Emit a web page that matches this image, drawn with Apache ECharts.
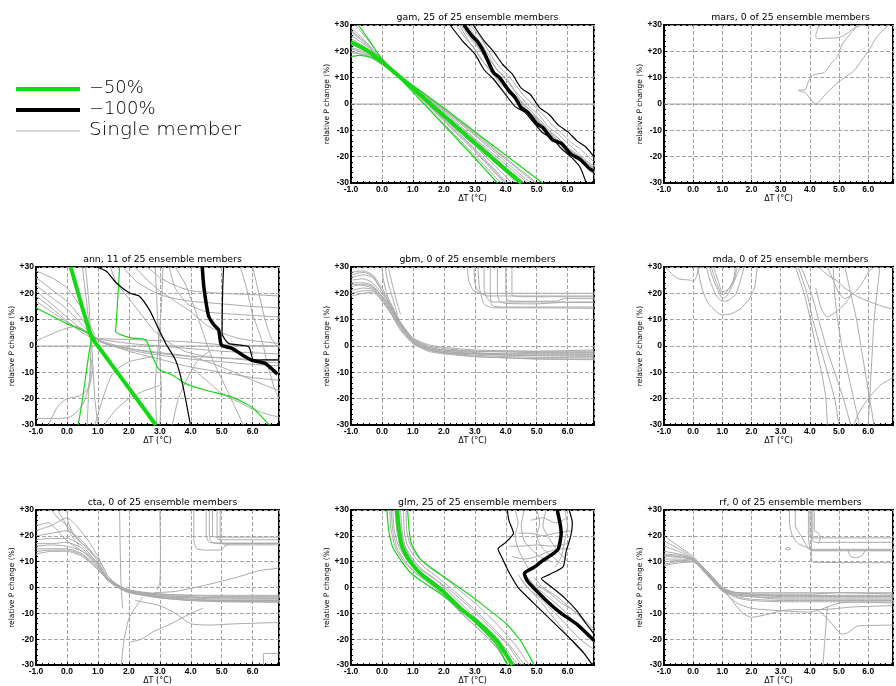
<!DOCTYPE html>
<html><head><meta charset="utf-8">
<script src="https://cdn.jsdelivr.net/npm/echarts@6/dist/echarts.min.js"></script>
<style>html,body{margin:0;padding:0;background:#fff}#c{width:896px;height:686px}</style>
</head><body><div id="c"></div>
<script>
// ---------- axes / ticks ----------
const xMin = -1, xMax = 6.85, yMin = -30, yMax = 30;
const xTickValues = [-1, 0, 1, 2, 3, 4, 5, 6];
const xTickLabels = ['-1.0', '0.0', '1.0', '2.0', '3.0', '4.0', '5.0', '6.0'];
const yTickValues = [-30, -20, -10, 0, 10, 20, 30];
const yTickLabels = ['-30', '-20', '-10', '0', '+10', '+20', '+30'];
const xName = 'ΔT (°C)';
const yName = 'relative P change (%)';

// ---------- panels ----------
const panelKeys = ['gam', 'mars', 'ann', 'gbm', 'mda', 'cta', 'glm', 'rf'];
const panelTitles = ['gam, 25 of 25 ensemble members', 'mars, 0 of 25 ensemble members', 'ann, 11 of 25 ensemble members',
  'gbm, 0 of 25 ensemble members', 'mda, 0 of 25 ensemble members', 'cta, 0 of 25 ensemble members',
  'glm, 25 of 25 ensemble members', 'rf, 0 of 25 ensemble members'];
const panelCol = [1, 2, 0, 1, 2, 0, 1, 2];
const panelRow = [0, 0, 1, 1, 1, 2, 2, 2];
const panelSolidZero = [true, true, true, false, false, false, false, false];

const legendNames = ['\u221250%', '\u2212100%', 'Single member'];

// ---------- gam ----------
const gamGray = [
  [[-0.85,30],[-0.5,25],[0,17.5],[1,5],[2,-7.5],[3,-19.5],[3.85,-30]],
  [[-1,29],[-0.5,23.5],[0,17],[1,5.5],[2,-6.5],[3,-18],[3.95,-30]],
  [[-1,27.5],[-0.5,22.5],[0,16.5],[1,6],[2,-5.5],[3,-17],[4.05,-30]],
  [[-1,26],[-0.5,22],[0,16.5],[1,6],[2,-5],[3,-16],[4,-27.5],[4.2,-30]],
  [[-1,25],[-0.5,21],[0,16],[1,6.2],[2,-4.5],[3,-15],[4,-26],[4.35,-30]],
  [[-1,24],[-0.5,20.5],[0,16],[1,6.5],[2,-4],[3,-14.5],[4,-25],[4.5,-30]],
  [[-1,22.5],[-0.5,20],[0,15.5],[1,6.5],[2,-3.5],[3,-13.5],[4,-24],[4.6,-30]],
  [[-1,21.5],[-0.5,19.5],[0,15.5],[1,7],[2,-3],[3,-13],[4,-23],[4.7,-30]],
  [[-1,21],[-0.5,19],[0,15.5],[1,7],[2,-2.5],[3,-12],[4,-22],[4.8,-30]],
  [[-1,20],[-0.5,18.5],[0,15],[1,7],[2,-2],[3,-11.5],[4,-21],[4.95,-30]],
  [[-1,19.5],[-0.5,18.5],[0,15],[1,7],[2,-2],[3,-11],[4,-20.5],[5.0,-30]],
  [[-1,28],[-0.5,23],[0,16.5],[1,5.5],[2,-6],[3,-17.5],[4.0,-30]],
  [[-1,23],[-0.5,20],[0,16],[1,6.5],[2,-4],[3,-14],[4,-24.5],[4.55,-30]],
  [[2.4,30],[2.7,25],[3.0,21],[3.2,17],[3.5,13],[3.8,8],[4.0,6],[4.3,1.5],[4.6,-2],[4.9,-5],[5.2,-9],[5.5,-12],[5.8,-15.5],[6.1,-18],[6.5,-22],[6.85,-27]],
  [[2.55,30],[2.85,25],[3.1,21.5],[3.35,17],[3.6,12.5],[3.9,9],[4.2,4],[4.4,1.5],[4.7,-2.5],[5.0,-5.5],[5.3,-10],[5.6,-13],[5.9,-16],[6.3,-20],[6.6,-23],[6.85,-26]],
  [[2.75,30],[3.0,26],[3.2,23],[3.45,18.5],[3.7,13],[4.0,10],[4.3,5],[4.5,2.5],[4.8,-1.5],[5.1,-4.5],[5.4,-9],[5.7,-11.5],[6.0,-15],[6.3,-18],[6.6,-21.5],[6.85,-23.5]],
  [[2.85,30],[3.1,26.5],[3.3,23],[3.55,18],[3.8,14],[4.1,10.5],[4.4,6],[4.6,3],[4.9,-0.5],[5.2,-4],[5.5,-8],[5.8,-11],[6.1,-14.5],[6.4,-17],[6.85,-22]],
  [[2.5,30],[2.8,24],[3.05,20],[3.3,15.5],[3.6,11],[3.9,7.5],[4.2,3],[4.5,-0.5],[4.8,-3.5],[5.1,-7],[5.4,-11],[5.7,-14],[6.0,-17],[6.4,-21],[6.85,-24.5]],
  [[2.7,30],[2.95,25.5],[3.2,22],[3.4,18],[3.7,13.5],[3.95,10],[4.25,5.5],[4.5,1],[4.8,-2.5],[5.1,-6],[5.4,-10],[5.7,-13],[6.0,-16.5],[6.35,-19.5],[6.7,-23],[6.85,-24]],
  [[2.6,30],[2.9,25],[3.15,21],[3.4,16.5],[3.65,12],[3.95,8.5],[4.25,4],[4.55,0],[4.85,-3],[5.15,-7.5],[5.45,-11],[5.75,-13.5],[6.05,-17.5],[6.45,-20.5],[6.85,-25]]
];
const gamGreen = [[-1,23.5],[-0.5,20.5],[0,16],[1,6],[1.57,0],[2,-4.5],[3,-14.8],[4,-25],[4.5,-30]];
const gamGreenBand = [
  [[-0.76,30],[-0.4,24],[0,17],[1,4.5],[2,-8],[3,-20.5],[3.73,-30]],
  [[-1,18],[-0.7,18.5],[-0.3,17.5],[0,15.5],[1,7],[2,-1.5],[3,-10.5],[4,-19.5],[5.19,-30]]
];
const gamBlack = [[2.65,30],[2.9,26],[3.1,23.5],[3.3,19.5],[3.6,12],[3.8,10],[4.1,5],[4.3,2.5],[4.5,-1.5],[4.7,-3],[5.0,-7.5],[5.2,-9],[5.5,-13.5],[5.8,-15],[6.1,-19],[6.4,-21],[6.7,-24.5],[6.85,-25.5]];
const gamBlackBand = [
  [[2.2,30],[2.6,24],[3,19],[3.3,13],[3.6,9.5],[4,3.5],[4.3,-1],[4.6,-3],[4.9,-7],[5.2,-11],[5.5,-13],[5.8,-17],[6.1,-20],[6.4,-24],[6.6,-30]],
  [[2.95,30],[3.3,24],[3.6,20],[3.9,15],[4.2,11.5],[4.5,6],[4.8,3.5],[5.1,-1.5],[5.4,-4],[5.7,-8],[6.0,-10.5],[6.3,-14],[6.6,-16.5],[6.85,-20]]
];

// ---------- mars ----------
const marsGray = [
  [[4.32,30],[4.2,26],[4.25,24.8],[4.6,25],[5.0,25.2],[5.3,27],[5.6,29.5],[5.8,30]],
  [[5.85,30],[5.6,29.2],[5.3,25.5],[5.1,22.5],[4.95,18],[4.75,15.7],[4.5,12],[4.1,11],[3.95,8.5],[3.85,5.5],[3.6,5.2],[3.85,4.2],[4.2,0],[4.6,4.5],[5.0,8.5],[5.5,12.5],[5.8,17],[6.0,20],[6.3,25.5],[6.5,28],[6.7,30]]
];

// ---------- ann ----------
const annGray = [
  [[-1,26],[-0.5,21.5],[0,17],[0.5,10],[0.85,4],[1.2,1],[2,-1.5],[3,-3.5],[4,-5],[5,-6],[6,-7],[6.85,-7.5]],
  [[-1,23],[-0.5,18.5],[0,14],[0.5,8],[0.9,3],[1.5,0.5],[2.5,-2],[3.5,-3.5],[5,-4.5],[6.85,-5.5]],
  [[-1,21],[-0.5,16],[0,11],[0.5,6],[0.9,3],[2,1],[3,0],[4,-1],[5,-2],[6.85,-3]],
  [[-1,19],[-0.5,14.5],[0,9.5],[0.5,5],[1,2],[2,-2],[3,-5],[4,-8],[5,-10],[6,-12],[6.85,-13]],
  [[-1,17],[-0.5,13],[0,9],[0.5,6],[1,3],[2,2.5],[3,2],[4,1.5],[5,0.5],[6.85,0]],
  [[-1,2],[-0.6,4],[-0.2,6],[0.3,7.5],[0.8,4],[1.2,1],[2,-1],[3,-2.5],[4,-4],[5,-8],[6,-13],[6.85,-17]],
  [[0.6,30],[0.7,18],[0.75,8],[0.8,0],[0.85,-10],[0.9,-20],[1.0,-30]],
  [[0.5,30],[0.6,20],[0.7,10],[0.78,2],[0.75,-8],[0.7,-18],[0.65,-30]],
  [[-1,-27.5],[-0.3,-27.5],[0.1,-27],[0.4,-24],[0.6,-20],[0.75,-12],[0.8,-5]],
  [[-0.6,-30],[-0.3,-23],[0,-20],[0.4,-19],[0.7,-16],[0.85,-8]],
  [[2.85,30],[2.9,18],[2.95,5],[3.0,-5],[3.05,-18],[3.0,-30]],
  [[3.1,30],[3.05,15],[2.95,0],[2.85,-15],[2.9,-30]],
  [[2.2,30],[2.6,25],[3,21],[3.5,17],[4,13],[4.5,8],[5,5],[5.5,3],[6,2],[6.85,1]],
  [[1.8,30],[2.3,24],[3,19.5],[3.5,18],[4,17],[5,16],[6,15],[6.85,14.5]],
  [[2.6,30],[3.0,26],[3.5,23],[4,21],[5,20],[6,19.5],[6.85,19]],
  [[3.5,30],[3.8,24],[4.1,15],[4.4,5],[4.7,-5],[5.1,-15],[5.5,-25],[5.7,-30]],
  [[5.6,30],[5.8,22],[6.0,12],[6.3,2],[6.5,-8],[6.7,-16],[6.85,-20]],
  [[4.0,-8],[4.5,-13],[5,-18],[5.5,-21],[6,-24],[6.5,-26],[6.85,-27]],
  [[1.2,-30],[1.6,-24],[2.0,-20],[2.5,-17],[3.0,-15]],
  [[3.4,-30],[3.6,-20],[3.9,-12],[4.2,-6],[4.6,-2]],
  [[-1,28.5],[-0.5,26],[0,22],[0.5,14],[0.9,4]],
  [[1.4,30],[1.6,24],[2.0,18],[2.4,12],[2.8,6],[3.2,2],[3.8,-2],[4.5,-4],[5.5,-5],[6.85,-6.5]],
  [[3.3,30],[3.5,22],[3.9,16],[4.5,13],[5.5,12],[6.85,11]],
  [[6.0,30],[6.2,20],[6.4,10],[6.6,3],[6.85,-1]],
  [[0.9,-30],[1.1,-22],[1.3,-15],[1.5,-10],[2,-6],[2.8,-4]]
];
const annGreen = [[0.12,30],[0.4,18.5],[0.73,5.5],[0.9,1.5],[1.0,0],[1.5,-8],[2,-16],[2.5,-24],[2.87,-30]];
const annGreenBand = [
  [[-1,14.5],[-0.5,11.5],[0,8.5],[0.4,6.5],[0.68,5],[0.78,2],[0.72,-2],[0.6,-12],[0.48,-22],[0.36,-30]],
  [[1.7,30],[1.65,20],[1.6,10],[1.57,5.5],[1.8,4],[2.12,3],[2.55,2.3],[2.76,-4],[2.98,-8.9],[3.4,-11],[3.83,-14.3],[4.48,-16.8],[5.33,-19.4],[5.97,-23.2],[6.5,-29.5],[6.55,-30]]
];
const annBlack = [[4.37,30],[4.42,22.7],[4.5,16],[4.58,11.2],[4.75,8],[4.9,6.1],[4.99,0.4],[5.33,-0.9],[5.76,-4.1],[5.97,-5.4],[6.4,-6.6],[6.6,-8.5],[6.8,-10.7]];
const annBlackBand = [
  [[0.95,30],[1.27,28.4],[1.59,24],[2.02,20.1],[2.34,18.9],[2.66,13.8],[2.87,8.7],[3.19,1],[3.51,-5.4],[3.73,-14.3],[3.99,-30]],
  [[5.06,30],[5.03,21.4],[5.01,4.8],[5.22,1],[5.87,-0.3],[6.03,-5.4],[6.4,-5.3],[6.85,-5.3]]
];

// ---------- gbm ----------
const gbmGray = [
  [[-1,28],[-0.6,28.5],[-0.3,27],[0,22],[0.3,16],[0.6,9],[1,3],[1.5,0],[2,-1],[3,-2],[4,-2.3],[5,-2.5],[6.85,-2.5]],
  [[-1,26],[-0.6,27],[-0.3,26],[0,21],[0.3,15],[0.6,8.5],[1,2.5],[1.5,-0.5],[2,-1.5],[3,-2.5],[4,-3],[5,-3],[6.85,-3.2]],
  [[-1,25],[-0.6,25.5],[-0.3,24],[0,20],[0.3,14.5],[0.6,8],[1,2],[1.5,-1],[2,-2],[3,-3],[4,-3.5],[5,-3.7],[6.85,-4]],
  [[-1,24],[-0.6,24],[-0.3,23],[0,19],[0.3,14],[0.6,8],[1,2.5],[1.5,-0.5],[2,-1.5],[3,-2],[4,-2],[5,-2],[6.85,-1.5]],
  [[-1,22.5],[-0.6,23.5],[-0.3,22.5],[0,18.5],[0.3,13.5],[0.6,7.5],[1,1.5],[1.5,-1.5],[2,-2.5],[3,-3.5],[4,-4],[5,-4.3],[6.85,-4.5]],
  [[-1,21],[-0.6,22],[-0.3,21.5],[0,18],[0.3,13],[0.6,7],[1,1.5],[1.5,-1.5],[2,-2.5],[3,-4],[4,-4.5],[5,-4.8],[6.85,-5]],
  [[-1,20],[-0.6,21],[-0.3,21],[0,17.5],[0.3,12.5],[0.6,6.5],[1,1],[1.5,-2],[2,-3],[3,-4],[4,-4.5],[5,-5],[6.85,-5.2]],
  [[-1,19],[-0.6,20],[-0.3,20.5],[0,17],[0.3,12],[0.6,6],[1,1],[1.5,-1.5],[2,-2.5],[3,-3],[4,-3.3],[5,-3.5],[6.85,-3.5]],
  [[-1,27],[-0.6,28],[-0.3,26.5],[0,21],[0.3,15],[0.6,9],[1,3],[1.5,0.5],[2,-0.5],[3,-1.5],[4,-1.8],[5,-2],[6.85,-2]],
  [[-1,23.5],[-0.6,23],[-0.3,22],[0,19],[0.3,14],[0.6,8],[1,2],[1.5,-1],[2,-2],[3,-2.8],[4,-3],[5,-3],[6.85,-3]],
  [[0.0,30],[0.05,25],[0.15,20],[0.3,15],[0.5,10]],
  [[0.1,30],[0.2,24],[0.35,18],[0.5,12]],
  [[0.2,30],[0.3,25],[0.45,18],[0.6,12]],
  [[2.76,30],[2.8,25],[2.95,21],[3.2,20],[4,20],[5,20],[6.85,20]],
  [[2.97,30],[3.0,24],[3.1,21],[3.4,19],[4.5,19],[5.5,19],[6.85,19]],
  [[3.3,30],[3.3,22],[3.4,18],[3.6,16.7],[5,16.7],[6.85,16.7]],
  [[3.73,30],[3.73,20],[3.8,17],[4.0,16.2],[5,16],[5.8,16.5],[6.85,16.5]],
  [[3.1,30],[3.15,22],[3.3,16],[3.6,14.5],[5,14.5],[6.85,14.3]],
  [[4.0,30],[4.0,20],[4.05,17.5],[4.3,17],[5.6,17],[5.9,18],[6.85,18]],
  [[4.2,30],[4.2,19.5],[4.5,18.7],[6.85,18.7]],
  [[3.5,30],[3.5,20],[3.55,15.5],[3.8,14.8],[6.85,14.8]]
];

// ---------- mda ----------
const mdaGray = [
  [[-0.95,30],[-0.7,27],[-0.5,25.5],[-0.1,25],[0,24.5],[0.1,26],[0.2,30]],
  [[0.15,30],[0.3,22],[0.5,16.5],[0.8,13],[1.0,11.8],[1.3,12.2],[1.6,14],[1.9,17.5],[2.1,22],[2.2,30]],
  [[0.45,30],[0.6,24],[0.8,19],[1.0,17],[1.2,17.3],[1.45,19.5],[1.6,24],[1.75,30]],
  [[0.55,30],[0.7,25],[0.9,20],[1.0,18],[1.15,19],[1.3,22],[1.5,27],[1.6,30]],
  [[0.62,30],[0.8,24],[1.0,19.5],[1.1,20],[1.3,23],[1.4,26],[1.45,30]],
  [[0.7,30],[0.85,25],[1.0,20.5],[1.2,21.5],[1.4,25],[1.5,30]],
  [[3.5,30],[3.8,20],[4.0,11],[4.2,0],[4.4,-10],[4.55,-20],[4.6,-30]],
  [[3.6,30],[3.9,20],[4.1,10],[4.35,0],[4.6,-10],[4.85,-20],[5.0,-30]],
  [[3.7,30],[4.05,20],[4.3,10],[4.55,0],[4.85,-10],[5.15,-20],[5.4,-30]],
  [[4.8,30],[4.85,20],[4.95,10],[5.1,0],[5.3,-10],[5.5,-20],[5.7,-30]],
  [[5.2,30],[5.4,20],[5.6,10],[5.75,0],[5.9,-10],[6.05,-20],[6.2,-30]],
  [[4.6,30],[4.8,25],[5.0,20],[5.2,18],[5.5,20],[5.8,24],[6.0,28],[6.2,30]],
  [[4.3,30],[4.6,27],[4.9,25],[5.2,22],[5.6,19],[6,17],[6.5,15],[6.85,14]],
  [[4.2,22],[4.4,14],[4.6,11],[4.9,13],[5.2,16],[5.4,19]],
  [[6.4,30],[6.3,20],[6.2,10],[6.15,0],[6.1,-10],[6.05,-20],[6.0,-30]],
  [[5.5,-30],[5.7,-25],[6.0,-20],[6.4,-15],[6.85,-12]]
];

// ---------- cta ----------
const ctaGray = [
  [[-1,22],[-0.5,24],[-0.2,26],[0,27],[0.3,24],[0.7,18],[1.0,12],[1.3,5],[1.6,1],[2,-1],[3,-2.5],[4,-3],[5,-3.5],[6.85,-3.5]],
  [[-1,20],[-0.5,21],[0,22],[0.5,18],[1.0,10],[1.3,4],[1.7,0.5],[2,-1],[3,-3],[4,-3.5],[5,-4],[6.85,-4]],
  [[-1,18.5],[-0.5,19],[0,19],[0.5,16],[1.0,9],[1.3,3.5],[1.7,0],[2,-1.5],[3,-3.5],[4,-4],[5,-4.5],[6.85,-4.5]],
  [[-1,17],[-0.5,17],[0,17.5],[0.5,15],[1.0,8.5],[1.3,3],[1.8,0],[2,-1.5],[3,-3.5],[4,-4.5],[5,-5],[6.85,-5]],
  [[-1,16],[-0.5,16.5],[0,16],[0.5,14],[1.0,8],[1.3,3],[1.8,-0.5],[2,-1.5],[3,-4],[4,-5],[5,-5.3],[6.85,-5.5]],
  [[-1,15],[-0.5,15],[0,15],[0.5,13],[1.0,7.5],[1.4,2.5],[1.8,-0.5],[2,-2],[3,-4],[4,-5],[5,-5.5],[6.85,-5.7]],
  [[-1,14],[-0.5,14.5],[0,14.5],[0.5,12.5],[1.0,7],[1.4,2],[1.8,-1],[2,-2],[3,-3.8],[4,-4.6],[5,-5],[6.85,-5.2]],
  [[-1,13],[-0.5,14],[0,14],[0.5,12],[1.0,7],[1.4,2],[1.8,-1],[2.2,-2],[3,-3],[4,-3.8],[5,-4],[6.85,-4.2]],
  [[-1,24],[-0.6,25],[-0.3,22],[0,18],[0.5,14],[1,9.5],[1.3,4],[1.8,0],[2.2,-1.5],[3,-2.5],[4,-3],[6.85,-3]],
  [[-0.5,30],[-0.3,27],[0,24],[0.3,19],[0.7,15],[1.0,11],[1.3,5]],
  [[0,30],[0.05,25],[0.2,21],[0.5,17],[0.9,12]],
  [[-0.3,30],[-0.1,26],[0.1,21],[0.4,16]],
  [[1.7,30],[1.72,15],[1.75,0],[1.8,-8]],
  [[3.0,30],[3.02,15],[3.0,2],[2.9,-1]],
  [[1.75,-30],[1.85,-20],[2.0,-12],[2.2,-8],[2.45,-3.5]],
  [[2.05,-21],[2.4,-20],[2.8,-17],[3.2,-15],[3.6,-12.5],[4.0,-10],[4.4,-8]],
  [[2.2,-5],[3,-7],[3.5,-10],[4.0,-14],[4.6,-14.5],[5.5,-14],[6.85,-13.5]],
  [[2.8,-2],[3.5,-1.5],[4.5,1],[5.5,4],[6.2,6.5],[6.85,7.5]],
  [[6.35,-30],[6.35,-25.5],[6.85,-25.5]],
  [[4.1,30],[4.1,18],[4.2,15],[4.5,14.5],[5.0,14.5],[5.1,16],[5.3,17],[6.85,17]],
  [[4.6,30],[4.6,19],[4.8,17],[6.85,17]],
  [[4.7,30],[4.7,20],[4.9,19.5],[6.85,19.5]],
  [[4.85,30],[4.85,19],[5,18.5],[6.85,18.5]],
  [[4.95,30],[4.95,18],[5.1,16.5],[6.85,16.5]],
  [[4.5,30],[4.5,20],[4.6,17.5],[5.2,17.2],[6.85,17.2]]
];

// ---------- glm ----------
const glmGray = [
  [[0.25,30],[0.3,22],[0.45,15],[0.75,9.5],[1.1,5.5],[1.5,2],[2,-3],[2.6,-10],[3.2,-17],[3.7,-23],[4.1,-30]],
  [[0.35,30],[0.4,22],[0.55,15.5],[0.85,10],[1.2,6],[1.6,2.5],[2.1,-3],[2.7,-10],[3.3,-17],[3.8,-23.5],[4.2,-30]],
  [[0.6,30],[0.65,22],[0.75,16],[1.0,11],[1.3,7],[1.7,3.5],[2.2,-2],[2.8,-9],[3.4,-16],[3.95,-23],[4.4,-30]],
  [[0.7,30],[0.72,22],[0.8,17],[1.05,12],[1.4,7.5],[1.8,4],[2.3,-1],[2.9,-7.5],[3.5,-14.5],[4.1,-22],[4.6,-30]],
  [[0.78,30],[0.8,22],[0.9,17],[1.15,12],[1.5,8],[2,4],[2.5,-1],[3.1,-7],[3.7,-14],[4.3,-22],[4.75,-30]],
  [[0.42,30],[0.48,22],[0.6,15.5],[0.9,10],[1.25,6],[1.7,2],[2.2,-3.5],[2.8,-11],[3.4,-18],[3.9,-24],[4.3,-30]],
  [[0.55,30],[0.6,23],[0.7,17],[0.95,11],[1.3,6.5],[1.8,2.5],[2.3,-2],[2.9,-8.5],[3.5,-15.5],[4.05,-22],[4.5,-30]],
  [[0.3,30],[0.35,22],[0.5,15],[0.8,9.5],[1.15,5],[1.6,1],[2.1,-4.5],[2.7,-11.5],[3.3,-18],[3.75,-24],[4.05,-30]],
  [[4.7,4],[5.0,0],[5.4,-4],[5.8,-8],[6.2,-13],[6.6,-18],[6.85,-21]],
  [[4.5,3],[4.8,-1],[5.2,-5],[5.6,-10],[6.0,-15],[6.4,-20],[6.85,-24]],
  [[4.9,4],[5.2,0],[5.6,-3],[6.0,-7],[6.4,-11],[6.85,-16]],
  [[4.4,5],[4.7,0],[5.1,-5],[5.5,-11],[5.9,-17],[6.3,-23],[6.7,-28],[6.8,-30]],
  [[5.0,1],[5.4,-2],[5.8,-6],[6.2,-9],[6.6,-14],[6.85,-17]],
  [[4.3,30],[4.4,25],[4.3,20],[4.4,15],[4.6,10],[4.8,6]],
  [[4.6,30],[4.5,24],[4.6,18],[4.9,14],[5.2,11],[5.5,10]],
  [[5.0,30],[5.1,25],[5.0,20],[5.2,15],[5.5,12],[5.8,9]],
  [[5.3,30],[5.2,24],[5.4,19],[5.7,14],[6.0,10]],
  [[5.9,30],[6.0,24],[5.9,18],[5.8,12],[5.6,8]],
  [[4.2,12],[4.6,11],[5.0,12],[5.4,14],[5.8,15],[6.1,15]],
  [[4.1,16],[4.5,16],[5,16.5],[5.5,16],[6.0,17]],
  [[4.4,21],[4.8,21],[5.2,20],[5.6,21],[6.1,22]],
  [[4.8,26],[5.2,27],[5.6,25],[6.0,27]]
];
const glmGreen = [[0.48,30],[0.55,22],[0.65,16],[0.92,9.9],[1.2,6],[1.46,3.4],[2.0,-1.7],[2.54,-8.1],[3.19,-14.4],[3.73,-20.8],[4.22,-30]];
const glmGreenBand = [
  [[0.16,30],[0.22,22],[0.35,15.5],[0.65,9.9],[0.9,6],[1.24,2.8],[2.1,-4.2],[2.86,-11.8],[3.51,-19.5],[3.8,-24],[4.05,-30]],
  [[0.83,30],[0.88,22],[0.95,17],[1.24,11],[1.78,6],[2.54,-0.4],[3.19,-6.1],[4.05,-14.4],[4.5,-21],[4.92,-30]]
];
const glmBlack = [[5.66,30],[5.75,25],[5.79,21],[5.7,15],[5.57,13.4],[5.2,10.5],[4.92,7.9],[4.6,5.4],[4.7,2.5],[4.92,-0.4],[5.35,-5.5],[5.79,-10],[6.33,-14.5],[6.85,-20.5]];
const glmBlackBand = [
  [[4.05,30],[4.1,26],[4.25,21],[4.0,17.5],[3.75,15],[3.9,11],[4.1,6],[4.4,0],[4.9,-6],[5.5,-13],[6.1,-20],[6.5,-25],[6.8,-30]],
  [[6.05,30],[6.15,25],[6.1,20],[5.95,14],[5.85,8],[5.4,5],[5.15,3.5],[5.5,0],[5.9,-4],[6.3,-9],[6.6,-14],[6.85,-18]]
];

// ---------- rf ----------
const rfGray = [
  [[-1,20],[-0.5,16],[0,12],[0.5,6],[1,0],[1.5,-2],[2,-2.5],[3,-3],[4,-3],[5,-3],[6.85,-3]],
  [[-1,18],[-0.5,15],[0,11.5],[0.5,6],[1,0],[1.5,-2.5],[2,-3],[3,-3.5],[4,-3.5],[5,-3.5],[6.85,-3.5]],
  [[-1,16],[-0.5,14],[0,11],[0.5,5.5],[1,-0.5],[1.5,-3],[2,-3.5],[3,-4],[4,-4],[5,-4],[6.85,-4]],
  [[-1,14],[-0.5,13],[0,11],[0.5,5.5],[1,-0.5],[1.5,-3.5],[2,-4.5],[3,-5],[4,-5],[5,-5],[6.85,-5]],
  [[-1,12.5],[-0.5,12],[0,10.5],[0.5,5],[1,-1],[1.5,-4],[2,-5],[3,-5.5],[4,-5.5],[5,-5.5],[6.85,-6]],
  [[-1,11],[-0.5,11],[0,10.5],[0.5,5],[1,-1],[1.5,-2],[2,-2.5],[3,-2.5],[4,-2.5],[5,-2],[6.85,-2]],
  [[-1,10],[-0.5,10.5],[0,10],[0.5,5],[1,-0.5],[1.5,-2],[2,-2],[3,-2],[4,-2],[5,-2],[6.85,-2.5]],
  [[-1,9],[-0.5,10],[0,10],[0.5,4.5],[1,-1],[1.5,-3],[2,-3.5],[3,-4.5],[4,-4.5],[5,-4.5],[6.85,-4.5]],
  [[-1,8.5],[-0.5,9.5],[0,10],[0.5,4.5],[1,-1.5],[1.5,-3],[2,-3],[3,-3],[4,-3],[5,-3.3],[6.85,-3.3]],
  [[-1,13],[-0.5,12.5],[0,11],[0.5,6],[1,0],[1.4,-6],[1.7,-10],[2,-11.5],[2.5,-10.5],[3,-9],[3.5,-8.5],[4,-8.5],[4.5,-8.5],[5,-8],[5.5,-7.5],[6.85,-7]],
  [[-1,12],[0,11],[0.5,5.5],[1,-1],[1.5,-6],[2,-8],[3,-9],[4,-9.5],[4.5,-8],[5,-6],[6,-5.5],[6.85,-5.5]],
  [[4.6,-7],[4.55,-15],[4.5,-22],[4.45,-30]],
  [[4.3,-9],[4.6,-12],[4.9,-16],[5.1,-18],[5.3,-17.5],[5.6,-15],[6,-14.7],[6.85,-14.5]],
  [[3.3,30],[3.3,25],[3.4,20],[3.6,17],[3.9,15.5],[4.1,14.5],[5,14.5],[6.85,14.5]],
  [[3.5,30],[3.5,24],[3.7,20],[3.9,16],[4.0,14.8],[6.85,14.8]],
  [[3.95,30],[3.95,20],[4.0,15],[4.05,14.2],[6.85,14.2]],
  [[4.0,30],[4.0,20],[4.1,19.2],[5,19.2],[6.85,19.2]],
  [[4.1,30],[4.1,18],[4.2,17.5],[6.85,17.5]],
  [[4.05,30],[4.05,12],[4.1,9.8],[6.85,9.6]],
  [[4.15,30],[4.15,22],[4.3,21],[4.35,19],[4.3,17]],
  [[3.15,15],[3.25,15.5],[3.35,15],[3.25,14.5],[3.15,15]],
  [[5.3,14.5],[5.4,12],[5.6,11.5],[5.8,12.5],[5.9,14.5]]
];

// ---------- per-panel bundles ----------
const panelGray = [gamGray, marsGray, annGray, gbmGray, mdaGray, ctaGray, glmGray, rfGray];
const panelGreen = [gamGreen, null, annGreen, null, null, null, glmGreen, null];
const panelGreenBand = [gamGreenBand, [], annGreenBand, [], [], [], glmGreenBand, []];
const panelBlack = [gamBlack, null, annBlack, null, null, null, glmBlack, null];
const panelBlackBand = [gamBlackBand, [], annBlackBand, [], [], [], glmBlackBand, []];

// ---------- styling ----------
const colLeft = [36, 351, 664];
const rowTop = [25, 267, 510];
const plotW = 243, plotH = 158;
const GRAY = '#a9a9a9', GRID = '#a4a4a4', GREEN = '#14d814', BLACK = '#000';

const grids = [], xAxes = [], yAxes = [], series = [], titles = [];
panelKeys.forEach((k, i) => {
  const L = colLeft[panelCol[i]], T = rowTop[panelRow[i]];
  grids.push({left: L, top: T, width: plotW, height: plotH, show: true, borderColor: '#000', borderWidth: 2, containLabel: false});
  titles.push({text: panelTitles[i], left: L + plotW / 2, top: T - 17, textAlign: 'center',
    textStyle: {fontSize: 9.4, fontWeight: 'normal', color: '#000', fontFamily: 'DejaVu Sans'}});
  xAxes.push({gridIndex: i, type: 'value', min: xMin, max: xMax, interval: 1,
    name: xName, nameLocation: 'middle', nameGap: 7,
    nameTextStyle: {fontSize: 8, color: '#000', fontFamily: 'DejaVu Sans'},
    axisLine: {show: true, onZero: false, lineStyle: {color: '#000', width: 2}},
    axisTick: {show: true, inside: true, length: 3, lineStyle: {color: '#000'}},
    minorTick: {show: true, splitNumber: 5, length: 2, lineStyle: {color: '#000'}},
    axisLabel: {margin: 2, fontSize: 8.5, fontWeight: 'bold', color: '#000', fontFamily: 'Liberation Sans',
      formatter: v => { const j = xTickValues.indexOf(v); return j >= 0 ? xTickLabels[j] : ''; }},
    splitLine: {show: true, lineStyle: {color: GRID, width: 1, type: [4, 2]}}
  });
  yAxes.push({gridIndex: i, type: 'value', min: yMin, max: yMax, interval: 10,
    name: yName, nameLocation: 'middle', nameGap: 17, nameRotate: 90,
    nameTextStyle: {fontSize: 7.5, color: '#000', fontFamily: 'DejaVu Sans'},
    axisLine: {show: true, onZero: false, lineStyle: {color: '#000', width: 2}},
    axisTick: {show: true, inside: true, length: 3, lineStyle: {color: '#000'}},
    minorTick: {show: true, splitNumber: 5, length: 2, lineStyle: {color: '#000'}},
    axisLabel: {margin: 2, fontSize: 8.5, fontWeight: 'bold', color: '#000', fontFamily: 'Liberation Sans',
      formatter: v => { const j = yTickValues.indexOf(v); return j >= 0 ? yTickLabels[j] : ''; }},
    splitLine: {show: true, lineStyle: {color: GRID, width: 1, type: [4, 2]}}
  });
  const base = {type: 'line', xAxisIndex: i, yAxisIndex: i, symbol: 'none', silent: true, animation: false, smooth: 0.2, clip: true};
  if (panelSolidZero[i]) {
    series.push(Object.assign({}, base, {data: [[xMin, 0], [xMax, 0]], smooth: false, lineStyle: {color: GRAY, width: 1}, z: 1}));
  }
  panelGray[i].forEach(line => series.push(Object.assign({}, base, {data: line, lineStyle: {color: GRAY, width: 1}, z: 2})));
  panelGreenBand[i].forEach(line => series.push(Object.assign({}, base, {data: line, lineStyle: {color: GREEN, width: 1.2}, z: 3})));
  panelBlackBand[i].forEach(line => series.push(Object.assign({}, base, {data: line, lineStyle: {color: BLACK, width: 1.2}, z: 3})));
  if (panelGreen[i]) series.push(Object.assign({}, base, {data: panelGreen[i], lineStyle: {color: GREEN, width: 4}, z: 4}));
  if (panelBlack[i]) series.push(Object.assign({}, base, {data: panelBlack[i], lineStyle: {color: BLACK, width: 3.5}, z: 4}));
});

// legend drawn as graphic in top-left area
const legendColors = [GREEN, BLACK, '#c8c8c8'];
const legendWidths = [4, 4, 1.5];
const legendY = [89, 110, 131];
const legendScaleX = [1.05, 1.06, 1.18];
const graphics = [];
legendNames.forEach((n, j) => {
  graphics.push({type: 'line', shape: {x1: 16, y1: legendY[j], x2: 80, y2: legendY[j]}, style: {stroke: legendColors[j], lineWidth: legendWidths[j]}});
  graphics.push({type: 'text', x: 89, y: legendY[j], scaleX: legendScaleX[j],
    style: {text: n, fill: '#000', font: '200 17px "DejaVu Sans"', textVerticalAlign: 'middle', verticalAlign: 'middle'}});
});

const chart = echarts.init(document.getElementById('c'), null, {renderer: 'canvas'});
chart.setOption({
  backgroundColor: '#fff',
  animation: false,
  title: titles,
  grid: grids,
  xAxis: xAxes,
  yAxis: yAxes,
  series: series,
  graphic: graphics
});
</script></body></html>
